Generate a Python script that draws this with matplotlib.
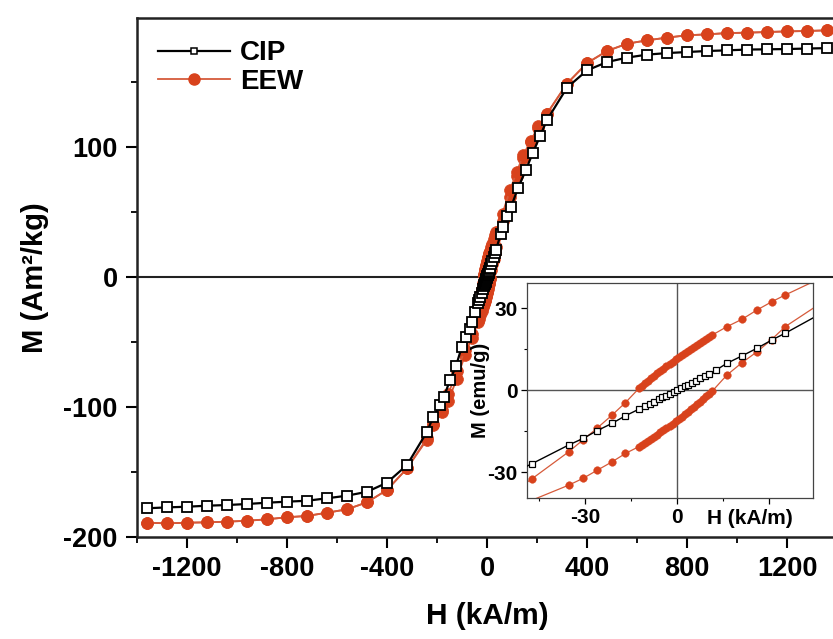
import matplotlib
matplotlib.use("Agg")
import matplotlib.pyplot as plt
from matplotlib.lines import Line2D
from matplotlib.ticker import MultipleLocator
from matplotlib.font_manager import FontProperties

plt.rcParams['font.family'] = ['Liberation Sans', 'DejaVu Sans']
plt.rcParams['font.weight'] = 'bold'
plt.rcParams['axes.unicode_minus'] = False

# ---------------- data ----------------
# CIP (no hysteresis) : H in kA/m, M in Am2/kg
cip_H = [-1360, -1280, -1200, -1120, -1040, -960, -880, -800, -720, -640, -560, -480,
         -400, -320, -240, -215, -188, -172, -148, -124, -101, -84, -70, -61,
         -47.3, -35.4, -30.7, -26.2, -21.3, -16.9, -12.5,
         -10.5, -9, -7.5, -6, -4.8, -3.6, -2.4, -1.2, 0, 1.2, 2.4, 3.6, 4.8, 6, 7.5, 9, 10.5,
         12.5, 16.2, 21.1, 26, 30.8, 35.2, 55, 65, 79, 96, 125, 155, 183, 212, 240,
         320, 400, 480, 560, 640, 720, 800, 880, 960, 1040, 1120, 1200, 1280, 1360]
cip_M = [-177.9, -177.2, -176.7, -175.9, -175.4, -174.6, -173.6, -172.8, -172.1, -170.2, -168.2, -165.2,
         -158.2, -144.6, -119.0, -107.5, -98.5, -92.0, -79.2, -68.5, -53.6, -46.0, -40.0, -34.4,
         -26.9, -20.1, -17.7, -14.9, -12.2, -9.4, -7.0,
         -6.0, -5.1, -4.3, -3.4, -2.7, -2.0, -1.4, -0.7, 0.0, 0.7, 1.4, 2.0, 2.7, 3.4, 4.3, 5.1, 6.0,
         7.2, 9.8, 12.5, 15.3, 18.3, 20.8, 33.0, 39.0, 47.0, 54.0, 69.0, 82.3, 95.6, 108.5, 121.0,
         145.9, 159.2, 165.6, 169.0, 171.3, 172.5, 173.3, 174.1, 174.6, 175.2, 175.4, 175.6, 176.0, 176.3]

# EEW ascending (lower) branch
eew_up_H = [-1360, -1280, -1200, -1120, -1040, -960, -880, -800, -720, -640, -560, -480,
            -400, -320, -240, -215, -180, -155, -120, -88, -62,
            -35.4, -30.7, -26.2, -21.3, -16.9,
            -12.5, -11.5, -10.5, -9.5, -8.5, -7.5, -6.5, -5.5, -4.5, -3.5, -2.5, -1.5, -0.5,
            0.5, 1.5, 2.5, 3.5, 4.5, 5.5, 6.5, 7.5, 8.5, 9.5, 10.5, 11.5,
            16.2, 21.1, 26, 30.8, 35.2, 62, 92, 119, 145, 175, 205, 240,
            320, 400, 480, 560, 640, 720, 800, 880, 960, 1040, 1120, 1200, 1280, 1360]
eew_up_M = [-189.0, -189.5, -189.0, -188.7, -188.2, -187.5, -186.4, -184.8, -183.8, -181.3, -178.7, -173.3,
            -163.8, -147.2, -125.0, -114.0, -104.0, -95.0, -78.0, -60.0, -47.0,
            -34.8, -32.3, -29.4, -26.3, -23.2,
            -20.7, -20.0, -19.3, -18.6, -17.8, -17.1, -16.3, -15.5, -14.7, -13.9, -13.1, -12.3, -11.4,
            -10.6, -9.7, -8.8, -7.9, -7.0, -6.1, -5.1, -4.2, -3.2, -2.2, -1.3, -0.3,
            5.5, 10.0, 14.0, 18.5, 23.2, 43.0, 62.0, 78.0, 92.0, 104.0, 115.0, 125.9,
            149.0, 164.8, 174.1, 179.7, 182.3, 184.4, 186.2, 186.9, 187.9, 188.2, 188.7, 189.2, 189.5, 190.0]

# EEW descending (upper) branch
eew_dn_H = [1360, 1280, 1200, 1120, 1040, 960, 880, 800, 720, 640, 560, 480,
            400, 320, 240, 205, 175, 145, 119, 92, 62,
            35.2, 30.8, 26, 21.1, 16.2,
            11.5, 10.5, 9.5, 8.5, 7.5, 6.5, 5.5, 4.5, 3.5, 2.5, 1.5, 0.5,
            -0.5, -1.5, -2.5, -3.5, -4.5, -5.5, -6.5, -7.5, -8.5, -9.5, -10.5, -11.5, -12.5,
            -16.9, -21.3, -26.2, -30.7, -35.4, -47.3, -62, -88, -120, -155, -180, -215, -240,
            -320, -400, -480, -560, -640, -720, -800, -880, -960, -1040, -1120, -1200, -1280, -1360]
eew_dn_M = [190.0, 189.5, 189.2, 188.7, 188.2, 187.9, 186.9, 186.2, 184.4, 182.3, 179.7, 174.1,
            164.8, 149.0, 125.9, 116.0, 105.0, 94.0, 81.0, 67.0, 49.0,
            34.8, 32.3, 29.3, 25.9, 23.2,
            20.2, 19.5, 18.8, 18.1, 17.4, 16.6, 15.9, 15.1, 14.4, 13.6, 12.8, 12.0,
            11.2, 10.4, 9.5, 8.7, 7.8, 7.0, 6.1, 5.2, 4.3, 3.4, 2.5, 1.6, 0.6,
            -4.6, -9.2, -14.0, -18.2, -22.6, -32.4, -44.0, -56.0, -72.0, -90.0, -102.0, -113.0, -124.0,
            -147.2, -163.8, -173.3, -178.7, -181.3, -183.8, -184.8, -186.4, -187.5, -188.2, -188.7, -189.0, -189.5, -189.0]

series_names = ['CIP', 'EEW']
main_xticks = [-1200, -800, -400, 0, 400, 800, 1200]
main_yticks = [-200, -100, 0, 100]
inset_xticks = [-30, 0, 30]
inset_xticklabels = ['-30', '0', '']
inset_yticks = [-30, 0, 30]

RED = '#D8421C'
RED_LINE = '#D65A3A'

fig = plt.figure(figsize=(8.33, 6.39), dpi=100)
ax = fig.add_axes([137/833, (639-537)/639, 700/833, (537-18)/639])

# EEW first (underneath)
for H, M in [(eew_up_H, eew_up_M), (eew_dn_H, eew_dn_M)]:
    ax.plot(H, M, color=RED_LINE, lw=1.3, marker='o', ms=8.5, mfc=RED, mec=RED, mew=0.5, zorder=2)
ax.plot(cip_H, cip_M, color='black', lw=1.6, marker='s', ms=7, mfc='white', mec='black', mew=1.3, zorder=3)

ax.axhline(0, color='#222222', lw=1.5, zorder=1)
ax.set_xlim(-1400, 1400)
ax.set_ylim(-200, 199.5)
ax.set_xticks(main_xticks)
ax.set_yticks(main_yticks)
ax.xaxis.set_minor_locator(MultipleLocator(200))
ax.yaxis.set_minor_locator(MultipleLocator(50))
ax.tick_params(which='major', direction='out', length=8, width=1.5, labelsize=19.5, pad=6)
ax.tick_params(which='minor', direction='out', length=4.5, width=1.3)
for lab in ax.get_xticklabels() + ax.get_yticklabels():
    lab.set_fontweight('bold')
for s in ['left', 'bottom', 'top']:
    ax.spines[s].set_linewidth(1.8)
    ax.spines[s].set_color('#222222')
ax.spines['right'].set_visible(False)
ax.set_xlabel('H (kA/m)', fontsize=21.5, fontweight='bold', labelpad=14)
ax.set_ylabel('M (Am\u00b2/kg)', fontsize=21, fontweight='bold', labelpad=10)

handles = [Line2D([], [], color='black', lw=1.6, marker='s', ms=5, mfc='white', mec='black', mew=1.1),
           Line2D([], [], color=RED_LINE, lw=1.3, marker='o', ms=8, mfc=RED, mec=RED)]
legfont = FontProperties(family='Liberation Sans', weight='bold', size=20)
leg = ax.legend(handles, series_names, loc='upper left', bbox_to_anchor=(-0.006, 1.005),
                frameon=False, prop=legfont, handlelength=2.6,
                handletextpad=0.35, labelspacing=0.1, borderaxespad=0.5)
for t in leg.get_texts():
    t.set_fontweight('bold')

# ---------------- inset ----------------
axi = fig.add_axes([527/833, (639-498)/639, 286/833, 215/639])
axi.set_facecolor('white')
axi.axhline(0, color='#555555', lw=1.0, zorder=1)
axi.axvline(0, color='#555555', lw=1.0, zorder=1)
for H, M in [(eew_up_H, eew_up_M), (eew_dn_H, eew_dn_M)]:
    axi.plot(H, M, color=RED_LINE, lw=0.9, marker='o', ms=5.5, mfc=RED, mec=RED, mew=0.3, zorder=2)
axi.plot(cip_H, cip_M, color='black', lw=1.0, marker='s', ms=5, mfc='white', mec='black', mew=0.9, zorder=3)
axi.set_xlim(-49, 44.3)
axi.set_ylim(-39.5, 39.2)
axi.set_xticks(inset_xticks)
axi.set_xticklabels(inset_xticklabels)
axi.set_yticks(inset_yticks)
axi.xaxis.set_minor_locator(MultipleLocator(15))
axi.yaxis.set_minor_locator(MultipleLocator(15))
axi.tick_params(which='major', direction='out', length=4, width=0.9, labelsize=15, pad=3)
axi.tick_params(which='minor', direction='out', length=2.5, width=0.8)
for lab in axi.get_xticklabels() + axi.get_yticklabels():
    lab.set_fontweight('bold')
for s in axi.spines.values():
    s.set_linewidth(0.9)
    s.set_color('#444444')
axi.text(0.78, -0.095, 'H (kA/m)', transform=axi.transAxes, ha='center', va='center',
         fontsize=15, fontweight='bold')
axi.set_ylabel('M (emu/g)', fontsize=14.5, fontweight='bold')
axi.yaxis.set_label_coords(-0.128, 0.5)

fig.savefig('out.png', dpi=100)
